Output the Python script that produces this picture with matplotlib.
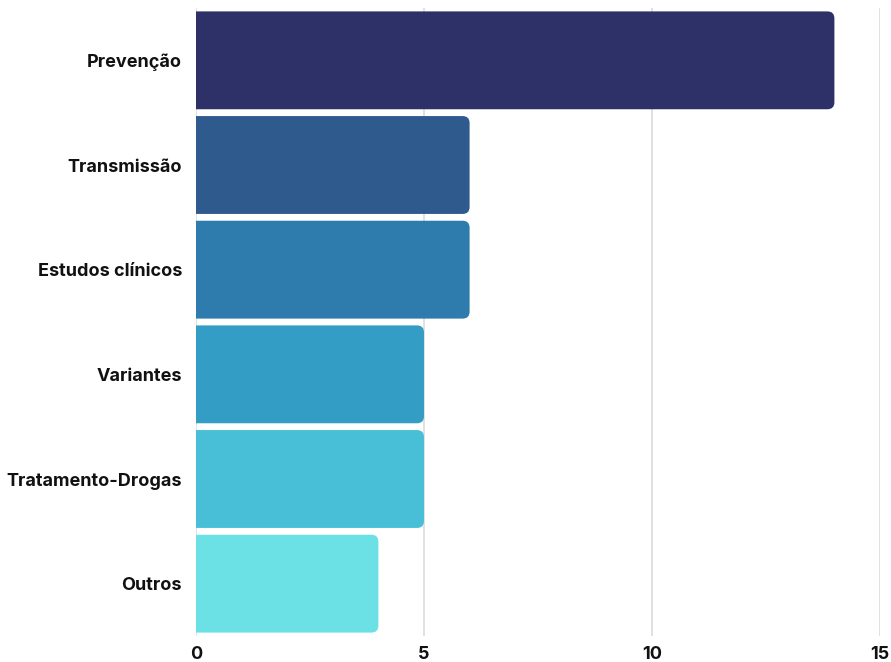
import matplotlib
matplotlib.use("Agg")
import matplotlib.pyplot as plt
from matplotlib.patches import FancyBboxPatch

categories = ["Prevenção", "Transmissão", "Estudos clínicos", "Variantes", "Tratamento-Drogas", "Outros"]
values = [14, 6, 6, 5, 5, 4]
colors = ["#2E3168", "#2E5A8E", "#2E7BAE", "#339DC6", "#48BFD6", "#6BE1E6"]
xticks = [0, 5, 10, 15]

plt.rcParams['font.family'] = ['Inter', 'DejaVu Sans']

W, H = 891, 662
top, bot = 8, 636
fig = plt.figure(figsize=(W / 100, H / 100), dpi=100)
ax = fig.add_axes([196 / W, (H - bot) / H, (880 - 196) / W, (bot - top) / H])

ypos = list(range(len(categories)))
bars = ax.barh(ypos, values, height=0.935, color=colors)
ax.set_xlim(0, 15)
ax.set_ylim(len(categories) - 0.5, -0.5)

px_per_x = (880 - 196) / 15
px_per_y = (bot - top) / len(categories)
r = 7 / px_per_x
aspect = px_per_x / px_per_y
for b, c in zip(bars, colors):
    x0, y0 = b.get_x(), b.get_y()
    w, h = b.get_width(), b.get_height()
    b.set_visible(False)
    p = FancyBboxPatch((x0 - 0.5, y0), w + 0.5, h,
                       boxstyle=f"round,pad=0,rounding_size={r}",
                       mutation_aspect=aspect, facecolor=c, edgecolor="none", zorder=3)
    ax.add_patch(p)

ax.set_xticks(xticks)
ax.set_xticklabels([str(t) for t in xticks], fontsize=13, fontweight="bold", color="#111111")
ax.set_yticks(ypos)
ax.set_yticklabels(categories, fontsize=13, fontweight="bold", color="#111111")
ax.tick_params(axis="both", length=0)
ax.tick_params(axis="x", pad=7)
ax.tick_params(axis="y", pad=10)
for s in ax.spines.values():
    s.set_visible(False)
ax.grid(axis="x", color="#dcdcdc", linewidth=1.2, zorder=0)
ax.set_axisbelow(True)

fig.savefig("out.png", dpi=100)
